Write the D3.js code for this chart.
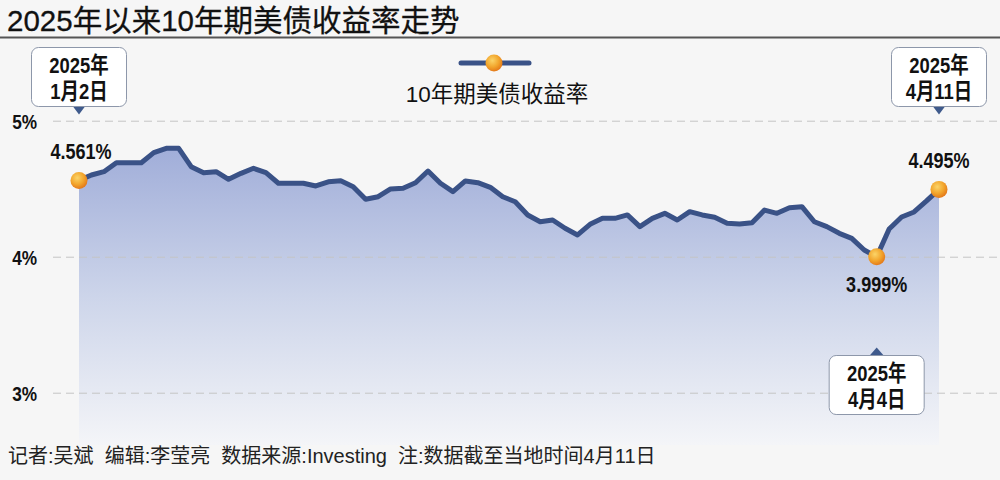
<!DOCTYPE html>
<html><head><meta charset="utf-8">
<script src="https://cdn.jsdelivr.net/npm/d3@7"></script>
<style>
html,body{margin:0;padding:0;background:#f6f6f6;}
svg{display:block;}
</style></head>
<body>
<svg id="c" width="1000" height="480"></svg>
<script>
const title = "2025年以来10年期美债收益率走势";
const seriesName = "10年期美债收益率";
const footer = "记者:吴斌  编辑:李莹亮  数据来源:Investing  注:数据截至当地时间4月11日";
const dates = ["1/2","1/3","1/6","1/7","1/8","1/9","1/10","1/13","1/14","1/15","1/16","1/17","1/21","1/22","1/23","1/24","1/27","1/28","1/29","1/30","1/31",
"2/3","2/4","2/5","2/6","2/7","2/10","2/11","2/12","2/13","2/14","2/18","2/19","2/20","2/21","2/24","2/25","2/26","2/27","2/28",
"3/3","3/4","3/5","3/6","3/7","3/10","3/11","3/12","3/13","3/14","3/17","3/18","3/19","3/20","3/21","3/24","3/25","3/26","3/27","3/28","3/31",
"4/1","4/2","4/3","4/4","4/7","4/8","4/9","4/10","4/11"];
const yields = [4.561,4.601,4.625,4.691,4.691,4.691,4.765,4.797,4.797,4.662,
4.618,4.625,4.569,4.613,4.650,4.618,4.540,4.540,4.540,4.520,
4.551,4.559,4.515,4.422,4.441,4.498,4.503,4.544,4.630,4.540,
4.478,4.557,4.544,4.510,4.441,4.404,4.307,4.257,4.270,4.209,
4.160,4.238,4.282,4.282,4.307,4.221,4.282,4.319,4.270,4.331,
4.307,4.290,4.246,4.240,4.250,4.343,4.319,4.360,4.368,4.257,
4.221,4.172,4.135,4.049,3.999,4.204,4.292,4.329,4.410,4.495];
const yTicks = [3,4,5];
const markedDates = ["1/2","4/4","4/11"];
const markedLabels = ["4.561%","3.999%","4.495%"];
const calloutLines = [["2025年","1月2日"],["2025年","4月4日"],["2025年","4月11日"]];
const calloutSide = ["above","below","above"];

const data = dates.map((d,i)=>({date:d, v:yields[i]}));
const svg = d3.select("#c");
const sans = "'Liberation Sans','Noto Sans CJK SC',sans-serif";
const SQ = 0.82; // horizontal condensing for the narrow bold labels

const x = d3.scalePoint().domain(dates).range([79,939]);
const y = d3.scaleLinear().domain([3,5]).range([392.7,120.7]);

const defs = svg.append("defs");
const fillG = defs.append("linearGradient").attr("id","fillG").attr("gradientUnits","userSpaceOnUse")
  .attr("x1",0).attr("x2",0).attr("y1",150).attr("y2",445);
fillG.append("stop").attr("offset",0).attr("stop-color","#a1aed9");
fillG.append("stop").attr("offset",0.5).attr("stop-color","#cdd5ea");
fillG.append("stop").attr("offset",1).attr("stop-color","#f4f5f8");
const dotG = defs.append("radialGradient").attr("id","dotG").attr("cx","40%").attr("cy","35%").attr("r","65%");
dotG.append("stop").attr("offset",0).attr("stop-color","#fbd468");
dotG.append("stop").attr("offset",0.6).attr("stop-color","#f2a52c");
dotG.append("stop").attr("offset",1).attr("stop-color","#e47a1a");

function narrowText(sel, tx, ty, anchor, size, txt){
  return sel.append("text").attr("transform",`translate(${tx},${ty}) scale(${SQ},1)`)
    .attr("text-anchor",anchor).attr("font-family",sans).attr("font-weight","bold")
    .attr("font-size",size).attr("fill","#111").text(txt);
}

// title
svg.append("text").attr("x",7).attr("y",31).attr("font-family",sans).attr("font-size",29.5)
  .attr("fill","#111").attr("stroke","#111").attr("stroke-width",0.3).text(title);
svg.append("line").attr("x1",0).attr("x2",1000).attr("y1",37.5).attr("y2",37.5)
  .attr("stroke","#555").attr("stroke-width",2);

// area
svg.append("path").datum(data).attr("fill","url(#fillG)")
  .attr("d", d3.area().x(d=>x(d.date)).y0(445).y1(d=>y(d.v)));

// axis + grid
const ax = svg.append("g").attr("transform","translate(53,0)")
  .call(d3.axisLeft(y).tickValues(yTicks).tickFormat(d=>d+"%").tickSize(-947).tickPadding(15));
ax.select(".domain").remove();
ax.selectAll(".tick line").attr("stroke","#c4c4c4").attr("stroke-dasharray","8,5").attr("stroke-width",1);
ax.selectAll(".tick text").attr("x",null).attr("transform",`translate(-16,0) scale(${SQ},1)`)
  .attr("font-family",sans).attr("font-weight","bold")
  .attr("font-size",21).attr("fill","#111").attr("dy","0.36em");

// line
svg.append("path").datum(data).attr("fill","none").attr("stroke","#3a5287").attr("stroke-width",5)
  .attr("stroke-linejoin","round")
  .attr("d", d3.line().x(d=>x(d.date)).y(d=>y(d.v)));

// marked dots and labels
const marks = markedDates.map((d,i)=>({date:d, v:yields[dates.indexOf(d)], label:markedLabels[i], lines:calloutLines[i], side:calloutSide[i]}));
svg.selectAll(".dot").data(marks).join("circle").attr("cx",d=>x(d.date)).attr("cy",d=>y(d.v))
  .attr("r",8.5).attr("fill","url(#dotG)");
marks.forEach((d,i)=>{
  narrowText(svg, x(d.date)+(i===0?2:0), d.side==="above"? y(d.v)-21 : y(d.v)+35, "middle", 22, d.label);
});

// callouts
const bw=95, bh=59;
marks.forEach(d=>{
  const cx = x(d.date);
  const g = svg.append("g");
  let top, triPts;
  if(d.side==="above"){ top = 47.5; triPts = [[cx-6,top+bh],[cx+6,top+bh],[cx,top+bh+8]]; }
  else { top = 355.5; triPts = [[cx-7,top],[cx+7,top],[cx,top-8]]; }
  g.append("path").attr("d", d3.line()(triPts)+"Z").attr("fill","#3f5a8c");
  g.append("rect").attr("x",cx-bw/2).attr("y",top).attr("width",bw).attr("height",bh)
    .attr("rx",7).attr("fill","#fff").attr("stroke","#8d97aa").attr("stroke-width",1);
  d.lines.forEach((t,j)=>{
    narrowText(g, cx, top+25+j*26, "middle", 22.5, t);
  });
});

// legend
const lg = svg.append("g");
lg.append("line").attr("x1",461).attr("x2",529).attr("y1",63).attr("y2",63)
  .attr("stroke","#3a5287").attr("stroke-width",5).attr("stroke-linecap","round");
lg.append("circle").attr("cx",494).attr("cy",63).attr("r",8.5).attr("fill","url(#dotG)");
lg.append("text").attr("x",497).attr("y",102).attr("text-anchor","middle").attr("font-family",sans)
  .attr("font-size",22.5).attr("fill","#111").text(seriesName);

// footer
svg.append("text").attr("x",8).attr("y",463).attr("font-family",sans).attr("font-size",20)
  .attr("fill","#222").attr("xml:space","preserve").style("white-space","pre").text(footer);
</script>
</body></html>
